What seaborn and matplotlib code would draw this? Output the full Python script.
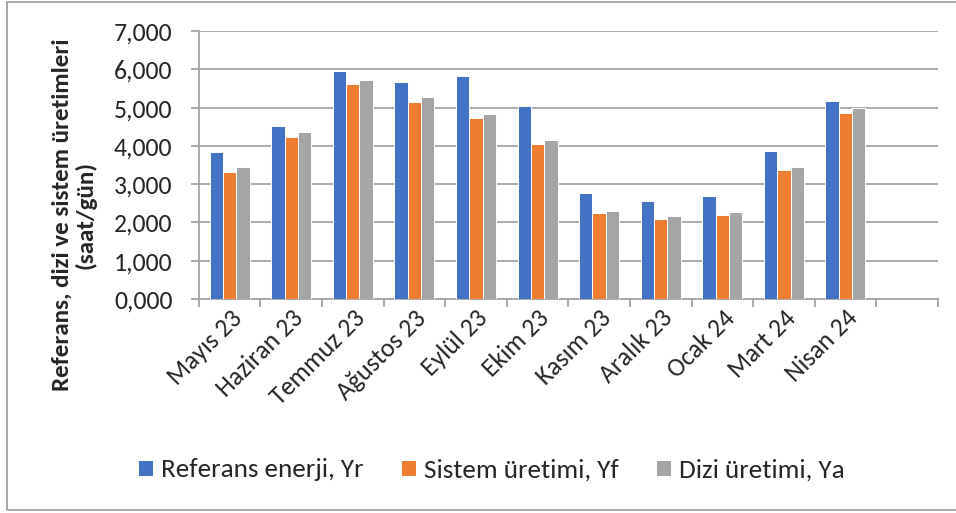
import matplotlib
matplotlib.use("Agg")
import matplotlib.pyplot as plt
import matplotlib.transforms as mtransforms
import seaborn as sns
import pandas as pd
from matplotlib.patches import Rectangle

months = ["Mayıs 23", "Haziran 23", "Temmuz 23", "Ağustos 23", "Eylül 23", "Ekim 23",
          "Kasım 23", "Aralık 23", "Ocak 24", "Mart 24", "Nisan 24"]
series_names = ["Referans enerji, Yr", "Sistem üretimi, Yf", "Dizi üretimi, Ya"]
yr = [3.85, 4.52, 5.95, 5.66, 5.82, 5.03, 2.76, 2.57, 2.70, 3.87, 5.16]
yf = [3.33, 4.22, 5.61, 5.15, 4.72, 4.05, 2.24, 2.10, 2.19, 3.37, 4.85]
ya = [3.44, 4.35, 5.72, 5.27, 4.84, 4.16, 2.30, 2.17, 2.27, 3.44, 4.99]
ytick_labels = ["0,000", "1,000", "2,000", "3,000", "4,000", "5,000", "6,000", "7,000"]
ylabel = "Referans, dizi ve sistem üretimleri\n(saat/gün)"
colors = ["#4472C4", "#ED7D31", "#A5A5A5"]

rows = []
for name, vals in zip(series_names, [yr, yf, ya]):
    for m, v in zip(months, vals):
        rows.append({"Ay": m, "Seri": name, "Deger": v})
df = pd.DataFrame(rows)
order = months + [" "]

sns.set_theme(style="white")
plt.rcParams['font.family'] = ['Carlito', 'DejaVu Sans']

fig = plt.figure(figsize=(9.56, 5.13), dpi=100)
ax = fig.add_axes([0.208, 0.417, 0.773, 0.5226])

sns.barplot(data=df, x="Ay", y="Deger", hue="Seri", order=order, hue_order=series_names,
            palette=colors, saturation=1, width=0.65, edgecolor="white", linewidth=0.7,
            errorbar=None, ax=ax, legend=True, zorder=3)

ax.set_xlim(-0.5, len(order) - 0.5)
ax.set_ylim(0, 7)
ax.set_yticks(range(8))
ax.set_yticklabels(ytick_labels, fontsize=18.5)
ax.yaxis.grid(True, color="#a6a6a6", linewidth=1.3, zorder=0)
ax.set_axisbelow(True)

# category boundary ticks (major) and labels at centers (minor)
ax.set_xticks([i - 0.5 for i in range(len(order) + 1)])
ax.set_xticklabels([])
ax.set_xticks(range(len(months)), minor=True)
ax.set_xticklabels(months, minor=True, rotation=45, ha="right", rotation_mode="anchor",
                   fontsize=18.5)
shift = mtransforms.ScaledTranslation(3 / 100, 0, fig.dpi_scale_trans)
for lab in ax.get_xticklabels(minor=True):
    lab.set_transform(lab.get_transform() + shift)
ax.tick_params(axis="x", which="major", length=6, width=1.3, color="#a6a6a6", direction="out",
               bottom=True)
ax.tick_params(axis="x", which="minor", length=0, pad=5, bottom=True)
ax.tick_params(axis="y", which="major", length=6, width=1.3, color="#a6a6a6", direction="out",
               left=True, pad=13)

for s in ["top", "right"]:
    ax.spines[s].set_visible(False)
for s in ["left", "bottom"]:
    ax.spines[s].set_color("#a6a6a6")
    ax.spines[s].set_linewidth(1.3)

ax.set_xlabel("")
ax.set_ylabel(ylabel, fontsize=18, fontweight="bold", linespacing=1.1, va="center",
              multialignment="center")
ax.yaxis.set_label_coords(-0.169, 0.313)

leg = ax.get_legend()
handles = leg.legend_handles
leg.remove()
fig.legend(handles, series_names, loc="center", bbox_to_anchor=(0.514, 0.084), ncol=3,
           frameon=False, fontsize=19.5, handlelength=0.54, handleheight=0.54,
           handletextpad=0.3, columnspacing=1.4)

fig.patches.append(Rectangle((0.0075, 0.006), 1.05, 0.99, transform=fig.transFigure,
                             fill=False, edgecolor="#a0a0a0", linewidth=1.3))

fig.savefig("out.png", dpi=100)
